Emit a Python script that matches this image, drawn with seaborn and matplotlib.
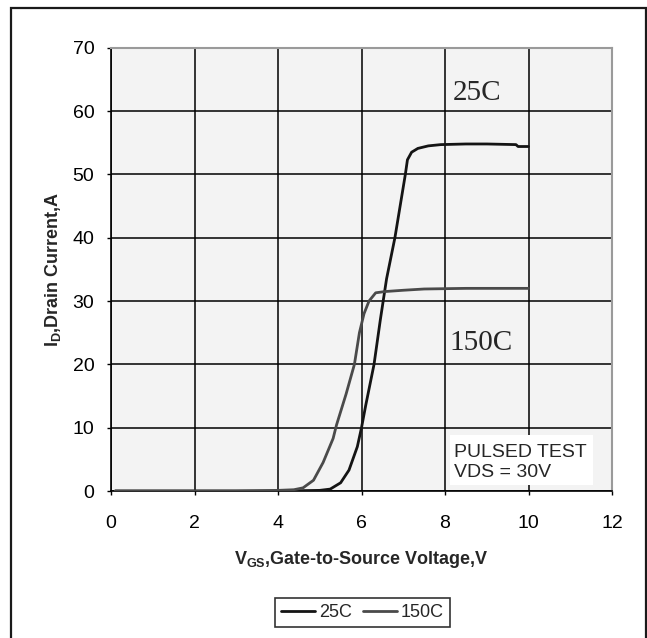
import numpy as np
import pandas as pd
import seaborn as sns
import matplotlib.pyplot as plt
from matplotlib.patches import Rectangle

sns.set_theme(style="ticks")
plt.rcParams['font.family'] = ['Liberation Sans', 'DejaVu Sans']
plt.rcParams['mathtext.default'] = 'regular'

# transfer characteristics
vgs_25 = [0.1, 1, 2, 3, 4, 5, 5.25, 5.5, 5.7, 5.9, 6.0, 6.1, 6.3, 6.45, 6.6,
          6.8, 6.95, 7.05, 7.1, 7.2, 7.35, 7.6, 7.9, 8.5, 9.0, 9.7, 9.75, 10.0]
id_25 = [0, 0, 0, 0, 0, 0.1, 0.3, 1.3, 3.3, 7, 10, 13.5, 20, 27, 33.5,
         40, 46, 50, 52.3, 53.5, 54.1, 54.5, 54.7, 54.8, 54.8, 54.7, 54.4, 54.4]

vgs_150 = [0.1, 1, 2, 3, 4, 4.38, 4.6, 4.85, 5.08, 5.32, 5.4, 5.63, 5.83, 5.95,
           6.06, 6.18, 6.34, 6.57, 7.0, 7.5, 8.5, 10.0]
id_150 = [0, 0, 0, 0, 0.1, 0.2, 0.5, 1.7, 4.5, 8.3, 10.4, 15.3, 20, 25,
          28, 30, 31.3, 31.5, 31.7, 31.9, 32.0, 32.0]

temps = ["25C", "150C"]
colors = {"25C": "#141414", "150C": "#4a4a4a"}

df = pd.concat([
    pd.DataFrame({"vgs": vgs_25, "id": id_25, "temp": "25C"}),
    pd.DataFrame({"vgs": vgs_150, "id": id_150, "temp": "150C"}),
])

fig = plt.figure(figsize=(6.47, 6.38), dpi=100)
ax = fig.add_axes([0.1716, 0.2304, 0.7743, 0.6948])
ax.set_facecolor("#f3f3f3")

sns.lineplot(data=df, x="vgs", y="id", hue="temp", hue_order=temps,
             palette=colors, linewidth=2.0, sort=False, estimator=None,
             ax=ax, legend=False, zorder=3)

ax.set_xlim(0, 12)
ax.set_ylim(0, 70)
ax.set_xticks(range(0, 13, 2))
ax.set_yticks(range(0, 71, 10))
ax.grid(True, color="black", linewidth=1.1)
ax.tick_params(axis="both", labelsize=14, colors="black", length=3, width=1)
ax.tick_params(axis="x", pad=14)
ax.tick_params(axis="y", pad=9)
for s in ["left", "bottom"]:
    ax.spines[s].set_color("black")
    ax.spines[s].set_linewidth(1.2)
for s in ["top", "right"]:
    ax.spines[s].set_color("#9a9a9a")
    ax.spines[s].set_linewidth(1.5)

ax.set_xlabel("V$_{GS}$,Gate-to-Source Voltage,V", fontsize=13, fontweight="bold")
ax.set_ylabel("I$_{D}$,Drain Current,A", fontsize=13, fontweight="bold")
ax.xaxis.set_label_coords(0.5, -0.13)
ax.yaxis.set_label_coords(-0.096, 0.5)

ax.text(8.19, 61.8, "25C", family="Liberation Serif", fontsize=21, zorder=4)
ax.text(8.1, 22.3, "150C", family="Liberation Serif", fontsize=21, zorder=4)

ax.add_patch(Rectangle((8.13, 0.95), 3.41, 7.85, facecolor="white",
                       edgecolor="none", zorder=4))
ax.text(8.22, 1.6, "PULSED TEST\nVDS = 30V", fontsize=14, linespacing=1.2,
        va="bottom", zorder=5)

handles = [plt.Line2D([], [], color=colors[t], linewidth=2.0) for t in temps]
leg = fig.legend(handles, temps, loc="center", bbox_to_anchor=(0.56, 0.04),
                 ncol=2, fontsize=13, frameon=True, fancybox=False,
                 handlelength=1.9, handletextpad=0.2, columnspacing=0.6,
                 borderpad=0.35)
leg.get_frame().set_edgecolor("black")
leg.get_frame().set_linewidth(1.2)

fig.add_artist(Rectangle((11 / 647, -0.05), 635 / 647, 1 - 8 / 638 + 0.05,
                         transform=fig.transFigure, fill=False,
                         edgecolor="#1a1a1a", linewidth=1.6))

fig.savefig("out.png", dpi=100)
